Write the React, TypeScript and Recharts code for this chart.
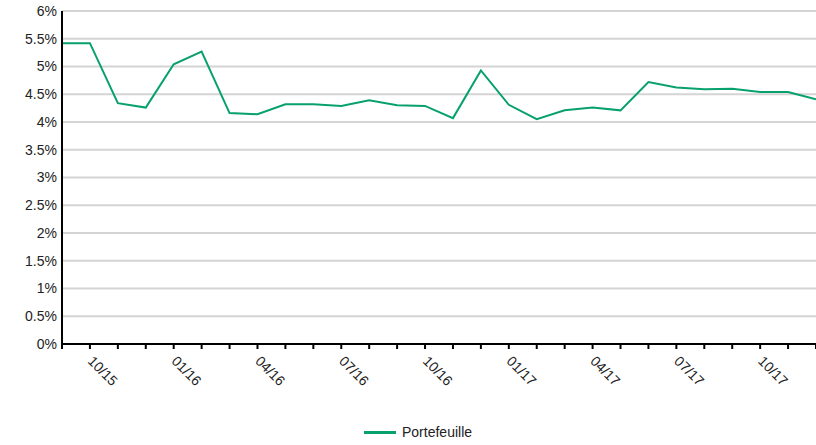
import React from 'react';
import { LineChart, Line, XAxis, YAxis, CartesianGrid, Legend } from 'recharts';

// mois (fin de mois), de 09/15 à 12/17
const months = [
  '09/15', '10/15', '11/15', '12/15',
  '01/16', '02/16', '03/16', '04/16', '05/16', '06/16', '07/16', '08/16', '09/16', '10/16', '11/16', '12/16',
  '01/17', '02/17', '03/17', '04/17', '05/17', '06/17', '07/17', '08/17', '09/17', '10/17', '11/17', '12/17',
];

// rendement du portefeuille, en %
const portefeuille = [
  5.42, 5.42, 4.34, 4.26,
  5.04, 5.27, 4.16, 4.14, 4.32, 4.32, 4.29, 4.39, 4.3, 4.29, 4.07, 4.93,
  4.31, 4.05, 4.21, 4.26, 4.21, 4.72, 4.62, 4.59, 4.6, 4.54, 4.54, 4.41,
];

// seuls les trimestres sont étiquetés
const labeledMonths = ['01', '04', '07', '10'];

const yTicks = [0, 0.5, 1, 1.5, 2, 2.5, 3, 3.5, 4, 4.5, 5, 5.5, 6];

const GREEN = '#07a06e';
const FONT = '"Liberation Sans", Arial, sans-serif';

const data = months.map((m, i) => ({ month: m, value: portefeuille[i] }));

const MonthTick = (props: any) => {
  const { x, y, payload } = props;
  const label: string = payload.value;
  if (!labeledMonths.includes(label.slice(0, 2))) return null;
  return (
    <g transform={`translate(${x - 3},${y + 11}) rotate(45)`}>
      <text x={0} y={0} textAnchor="start" fill="#222" fontSize={14} fontFamily={FONT}>
        {label}
      </text>
    </g>
  );
};

const renderLegend = () => (
  <div style={{ display: 'flex', alignItems: 'center', fontFamily: FONT, fontSize: 14, color: '#222' }}>
    <span style={{ display: 'inline-block', width: 32, height: 3, background: GREEN, marginRight: 6 }} />
    <span>Portefeuille</span>
  </div>
);

export default function App() {
  return (
    <div style={{ position: 'absolute', left: 0, top: 0, width: 816, height: 445, background: '#fff' }}>
      <LineChart width={816} height={445} data={data} margin={{ top: 11, right: 0, bottom: 41, left: 0 }}>
        <CartesianGrid vertical={false} stroke="#d4d4d4" strokeWidth={2} />
        <XAxis
          dataKey="month"
          interval={0}
          height={60}
          tick={<MonthTick />}
          tickSize={5}
          tickLine={{ stroke: '#000', strokeWidth: 2 }}
          axisLine={{ stroke: '#000', strokeWidth: 2 }}
        />
        <YAxis
          domain={[0, 6]}
          ticks={yTicks}
          width={62}
          tickLine={false}
          tickSize={3}
          tickMargin={2}
          tickFormatter={(v: number) => `${v}%`}
          tick={{ fill: '#222', fontSize: 14, fontFamily: FONT }}
          axisLine={{ stroke: '#000', strokeWidth: 2 }}
        />
        <Legend
          verticalAlign="middle"
          align="center"
          layout="horizontal"
          content={renderLegend}
          wrapperStyle={{ top: 424, left: 364, width: 'auto', height: 18 }}
        />
        <Line
          type="linear"
          dataKey="value"
          name="Portefeuille"
          stroke={GREEN}
          strokeWidth={2}
          dot={false}
          isAnimationActive={false}
        />
      </LineChart>
    </div>
  );
}
